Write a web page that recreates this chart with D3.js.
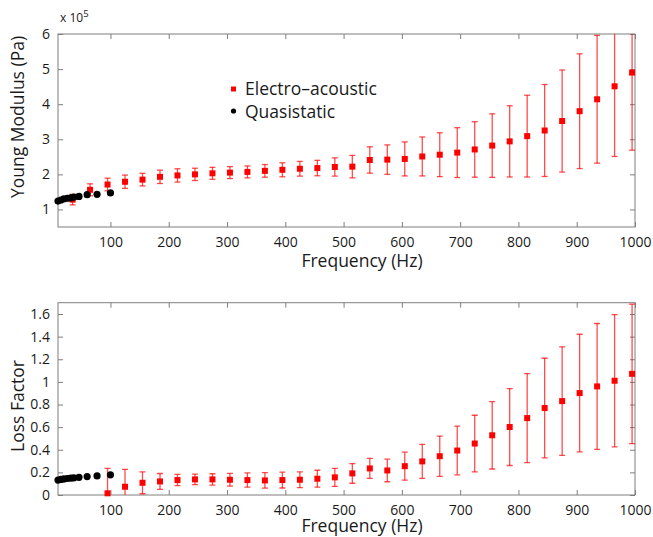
<!DOCTYPE html>
<html>
<head>
<meta charset="utf-8">
<script src="https://cdn.jsdelivr.net/npm/d3@7"></script>
<style>
  body { margin: 0; background: #fff; }
  text { font-family: "Open Sans", "Noto Sans", sans-serif; fill: #1a1a1a; }
</style>
</head>
<body>
<div class="chart"></div>
<script>
// electro-acoustic measurements (Hz)
const eaFreqTop = [35, 65, 95, 125, 155, 185, 215, 245, 275, 305, 335, 365, 395, 425, 455, 485,
                   515, 545, 575, 605, 635, 665, 695, 725, 755, 785, 815, 845, 875, 905, 935, 965, 995]
const eaYoung = [1.28, 1.56, 1.71, 1.79, 1.85, 1.93, 1.97, 2.00, 2.03, 2.05, 2.07, 2.10, 2.13, 2.16, 2.18, 2.21,
                 2.22, 2.41, 2.42, 2.44, 2.51, 2.56, 2.62, 2.71, 2.82, 2.94, 3.09, 3.25, 3.52, 3.80, 4.14, 4.51, 4.90]
const eaYoungErr = [0.15, 0.17, 0.18, 0.19, 0.18, 0.19, 0.19, 0.175, 0.17, 0.17, 0.17, 0.18, 0.20, 0.21, 0.22, 0.26,
                    0.32, 0.375, 0.42, 0.485, 0.555, 0.625, 0.71, 0.79, 0.905, 1.015, 1.165, 1.31, 1.455, 1.635, 1.82, 2.00, 2.21]

const eaFreqBot = [95, 125, 155, 185, 215, 245, 275, 305, 335, 365, 395, 425, 455, 485, 515, 545,
                   575, 605, 635, 665, 695, 725, 755, 785, 815, 845, 875, 905, 935, 965, 995]
const eaLoss = [0.015, 0.073, 0.108, 0.120, 0.132, 0.138, 0.138, 0.135, 0.132, 0.129, 0.132, 0.135, 0.144, 0.156, 0.191, 0.235,
                0.217, 0.255, 0.297, 0.343, 0.393, 0.455, 0.528, 0.601, 0.680, 0.769, 0.830, 0.901, 0.960, 1.010, 1.071]
const eaLossErr = [0.22, 0.153, 0.097, 0.07, 0.05, 0.047, 0.05, 0.056, 0.063, 0.068, 0.07, 0.07, 0.075, 0.08, 0.087, 0.088,
                   0.10, 0.124, 0.15, 0.178, 0.215, 0.25, 0.298, 0.34, 0.393, 0.44, 0.48, 0.52, 0.556, 0.584, 0.617]

// quasistatic measurements
const qsFreq = [10, 15, 20, 26, 32, 37, 46, 60, 77, 100]
const qsYoung = [1.24, 1.27, 1.30, 1.32, 1.33, 1.35, 1.37, 1.42, 1.43, 1.47]
const qsLoss = [0.132, 0.138, 0.142, 0.146, 0.149, 0.151, 0.156, 0.163, 0.169, 0.178]

const xTicks = [100, 200, 300, 400, 500, 600, 700, 800, 900, 1000]
const youngTicks = [1, 2, 3, 4, 5, 6]
const lossTicks = [0, 0.2, 0.4, 0.6, 0.8, 1, 1.2, 1.4, 1.6]

const w = 653, h = 537
const left = 58, right = 635
const red = '#ff0000', axisColor = '#7f7f7f'
const labelSize = 17.5

const svg = d3.select('.chart').append('svg')
              .attr('width', w)
              .attr('height', h)

const x = d3.scaleLinear().domain([10, 1000]).range([left, right])

const panel = (id, top, bottom, domain, yTicks, ea, qs, yLabel, labelY, xLabelOff) => {
  const y = d3.scaleLinear().domain(domain).range([bottom, top])
  const g = svg.append('g').attr('id', id)

  g.append('clipPath').attr('id', id + '-clip')
   .append('rect')
   .attr('x', left).attr('y', top)
   .attr('width', right - left).attr('height', bottom - top)

  // box + ticks on all four sides
  g.append('rect')
   .attr('x', left).attr('y', top)
   .attr('width', right - left).attr('height', bottom - top)
   .attr('fill', 'none').attr('stroke', axisColor).attr('stroke-width', 1)

  const xb = g.append('g').attr('transform', `translate(0,${bottom})`)
              .call(d3.axisBottom(x).tickValues(xTicks).tickSizeInner(-5).tickSizeOuter(0).tickPadding(10).tickFormat(d3.format('d')))
  const xt = g.append('g').attr('transform', `translate(0,${top})`)
              .call(d3.axisTop(x).tickValues(xTicks).tickSizeInner(-5).tickSizeOuter(0).tickFormat(''))
  const yl = g.append('g').attr('transform', `translate(${left},0)`)
              .call(d3.axisLeft(y).tickValues(yTicks).tickSizeInner(-5).tickSizeOuter(0).tickPadding(8).tickFormat(d3.format('~g')))
  const yr = g.append('g').attr('transform', `translate(${right},0)`)
              .call(d3.axisRight(y).tickValues(yTicks).tickSizeInner(-5).tickSizeOuter(0).tickFormat(''))
  ;[xb, xt, yl, yr].forEach(a => {
    a.select('.domain').remove()
    a.selectAll('line').attr('stroke', axisColor)
    a.selectAll('text').attr('font-size', 14).attr('fill', '#1a1a1a')
      .style('font-family', '"Open Sans", sans-serif')
  })

  // error bars
  const eb = g.append('g').attr('clip-path', `url(#${id}-clip)`)
              .attr('stroke', red).attr('stroke-opacity', 0.7).attr('stroke-width', 1.3)
  ea.f.forEach((f, i) => {
    const cx = x(f), lo = y(ea.v[i] - ea.e[i]), hi = y(ea.v[i] + ea.e[i])
    eb.append('line').attr('x1', cx).attr('x2', cx).attr('y1', lo).attr('y2', hi)
    eb.append('line').attr('x1', cx - 3).attr('x2', cx + 3).attr('y1', lo).attr('y2', lo)
    eb.append('line').attr('x1', cx - 3).attr('x2', cx + 3).attr('y1', hi).attr('y2', hi)
  })

  g.selectAll('.ea')
   .data(ea.f.map((f, i) => [f, ea.v[i]]))
   .enter().append('rect')
   .attr('x', d => x(d[0]) - 3)
   .attr('y', d => y(d[1]) - 3)
   .attr('width', 6).attr('height', 6)
   .attr('fill', red)

  g.selectAll('.qs')
   .data(qs.f.map((f, i) => [f, qs.v[i]]))
   .enter().append('circle')
   .attr('cx', d => x(d[0]))
   .attr('cy', d => y(d[1]))
   .attr('r', 3.6)
   .attr('fill', '#000')

  g.append('text')
   .text('Frequency (Hz)')
   .attr('x', 362).attr('y', bottom + xLabelOff)
   .attr('text-anchor', 'middle')
   .attr('font-size', labelSize)

  g.append('text')
   .text(yLabel)
   .attr('transform', `translate(24,${labelY}) rotate(-90)`)
   .attr('text-anchor', 'middle')
   .attr('font-size', labelSize)
}

panel('young', 34, 227, [0.5, 6], youngTicks,
      { f: eaFreqTop, v: eaYoung, e: eaYoungErr }, { f: qsFreq, v: qsYoung },
      'Young Modulus (Pa)', 117, 39.5)
panel('loss', 302.7, 495, [0, 1.7], lossTicks,
      { f: eaFreqBot, v: eaLoss, e: eaLossErr }, { f: qsFreq, v: qsLoss },
      'Loss Factor', 406, 36.5)

// exponent label
const exp = svg.append('text').attr('x', 60).attr('y', 22).attr('font-size', 12)
exp.append('tspan').text('x 10')
exp.append('tspan').text('5').attr('font-size', 9.5).attr('dy', -5)

// legend
const legend = svg.append('g').attr('id', 'legend')
legend.append('rect').attr('x', 231).attr('y', 86.5).attr('width', 5).attr('height', 5).attr('fill', red)
legend.append('circle').attr('cx', 233.5).attr('cy', 111).attr('r', 2.6).attr('fill', '#000')
legend.append('text').text('Electro\u2013acoustic').attr('x', 245).attr('y', 95).attr('font-size', labelSize)
legend.append('text').text('Quasistatic').attr('x', 245).attr('y', 117.5).attr('font-size', labelSize)
</script>
</body>
</html>
